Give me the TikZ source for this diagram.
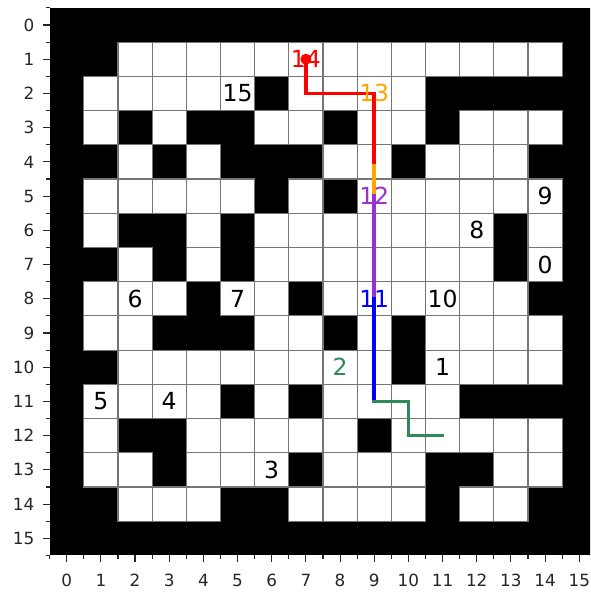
\documentclass[tikz,border=0pt]{standalone}
\usepackage{fontspec}
\setmainfont{DejaVu Sans}
\definecolor{pred}{HTML}{FF0000}
\definecolor{porange}{HTML}{FFA500}
\definecolor{ppurple}{HTML}{9932CC}
\definecolor{pblue}{HTML}{0000FF}
\definecolor{pgreen}{HTML}{2E8B57}
\definecolor{gridgray}{HTML}{757575}
\definecolor{tickgray}{HTML}{262626}
\begin{document}
\begin{tikzpicture}[x=34.17pt,y=-34.22pt,
  gridline/.style={draw=gridgray, line width=1.15pt},
  pathline/.style={line width=3.6pt, line cap=rect},
  celllabel/.style={inner sep=0pt, font=\fontsize{23.5}{26}\selectfont},
  ticklabel/.style={inner sep=0pt, font=\fontsize{16.8}{18}\selectfont, text=tickgray},
  tickmark/.style={draw=tickgray, line width=1.1pt}]
\path[use as bounding box] (-1.952,-0.7306) rectangle (15.315,16.569);
\clip (-1.952,-0.7306) rectangle (15.315,16.569);
% maze
\fill[black] (-0.5,-0.5) rectangle (15.5,15.5);
\def\whitecells{1/{2,3,4,5,6,7,8,9,10,11,12,13,14},
  2/{1,2,3,4,5,7,8,9,10},
  3/{1,3,6,7,9,10,12,13,14},
  4/{2,4,8,9,11,12,13},
  5/{1,2,3,4,5,7,9,10,11,12,13,14},
  6/{1,4,6,7,8,9,10,11,12,14},
  7/{2,4,6,7,8,9,10,11,12,14},
  8/{1,2,3,5,6,8,9,10,11,12,13},
  9/{1,2,6,7,9,11,12,13,14},
  10/{2,3,4,5,6,7,8,9,11,12,13,14},
  11/{1,2,3,4,6,8,9,10,11},
  12/{1,4,5,6,7,8,10,11,12,13,14},
  13/{1,2,4,5,6,8,9,10,13,14},
  14/{2,3,4,7,8,9,10,12,13}}
\foreach \r/\cols in \whitecells {
  \foreach \c in \cols {
    \fill[white] (\c-0.5,\r-0.5) rectangle ++(1,1);
  }
}
\foreach \r/\cols in \whitecells {
  \foreach \c in \cols {
    \draw[gridline] (\c-0.5,\r-0.5) rectangle ++(1,1);
  }
}
% ticks
\foreach \i in {0,...,15} {
  \draw[tickmark] (-0.5,\i) -- ++(-0.19,0);
  \draw[tickmark] (\i,15.5) -- ++(0,0.19);
  \node[ticklabel, anchor=east] (yl\i) at (-0.942,\i) {\i};
  \node[ticklabel, anchor=base] (xl\i) at (\i,16.41) {\i};
}
\foreach \i in {-0.5,0.5,...,15.5} {
  \draw[tickmark] (-0.5,\i) -- ++(-0.105,0);
  \draw[tickmark] (\i,15.5) -- ++(0,0.105);
}
% path points
\coordinate (p14) at (7,1);
\coordinate (c1) at (7,2);
\coordinate (p13) at (9,2);
\coordinate (c2) at (9,4);
\coordinate (p12) at (9,5);
\coordinate (p11) at (9,8);
\coordinate (c3) at (9,11);
\coordinate (c4) at (10,11);
\coordinate (c5) at (10,12);
\coordinate (c6) at (11,12);
\draw[pathline, porange] (p13) -- (p12);
\draw[pathline, pred] (p14) -- (c1) -- (p13) -- (c2);
\draw[pathline, ppurple] (p12) -- (p11);
\draw[pathline, pblue] (p11) -- (c3);
\draw[pathline, pgreen] (c3) -- (c4) -- (c5) -- (c6);
\fill[pred] (p14) circle (5.5pt);
% labels
\node[celllabel, text=pred] (l14) at (p14) {14};
\node[celllabel, text=porange] (l13) at (p13) {13};
\node[celllabel, text=ppurple] (l12) at (p12) {12};
\node[celllabel, text=pblue] (l11) at (p11) {11};
\node[celllabel, text=pgreen] (l2) at (8,10) {2};
\node[celllabel] (l15) at (5,2) {15};
\node[celllabel] (l9) at (14,5) {9};
\node[celllabel] (l8) at (12,6) {8};
\node[celllabel] (l0) at (14,7) {0};
\node[celllabel] (l6) at (2,8) {6};
\node[celllabel] (l7) at (5,8) {7};
\node[celllabel] (l10) at (11,8) {10};
\node[celllabel] (l1) at (11,10) {1};
\node[celllabel] (l5) at (1,11) {5};
\node[celllabel] (l4) at (3,11) {4};
\node[celllabel] (l3) at (6,13) {3};
\end{tikzpicture}
\end{document}
